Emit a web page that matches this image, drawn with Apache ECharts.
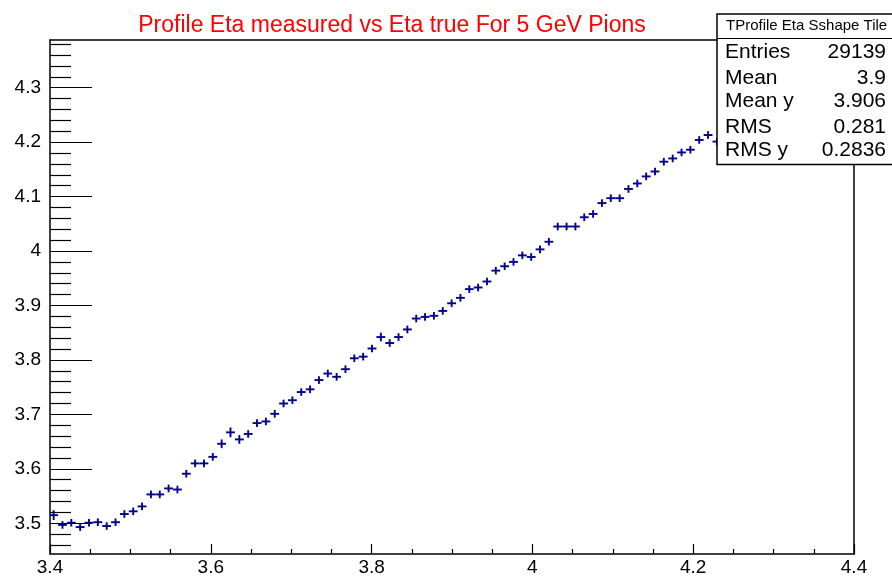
<!DOCTYPE html>
<html>
<head>
<meta charset="utf-8">
<script src="https://cdn.jsdelivr.net/npm/echarts@6/dist/echarts.min.js"></script>
<style>
  html, body { margin: 0; padding: 0; background: #ffffff; }
  #chart { width: 892px; height: 579px; }
</style>
</head>
<body>
<div id="chart"></div>
<script>
// Profile bins: centre of each eta-true bin (bin width 0.011)
const binCenters = [
  3.4045, 3.4155, 3.4265, 3.4375, 3.4485, 3.4595, 3.4705, 3.4815, 3.4925, 3.5035,
  3.5145, 3.5255, 3.5365, 3.5475, 3.5585, 3.5695, 3.5805, 3.5915, 3.6025, 3.6135,
  3.6245, 3.6355, 3.6465, 3.6575, 3.6685, 3.6795, 3.6905, 3.7015, 3.7125, 3.7235,
  3.7345, 3.7455, 3.7565, 3.7675, 3.7785, 3.7895, 3.8005, 3.8115, 3.8225, 3.8335,
  3.8445, 3.8555, 3.8665, 3.8775, 3.8885, 3.8995, 3.9105, 3.9215, 3.9325, 3.9435,
  3.9545, 3.9655, 3.9765, 3.9875, 3.9985, 4.0095, 4.0205, 4.0315, 4.0425, 4.0535,
  4.0645, 4.0755, 4.0865, 4.0975, 4.1085, 4.1195, 4.1305, 4.1415, 4.1525, 4.1635,
  4.1745, 4.1855, 4.1965, 4.2075, 4.2185, 4.2295
];
const binWidth = 0.011;

// Mean measured eta in each bin
const etaMeasured = [
  3.515, 3.497, 3.501, 3.493, 3.501, 3.502, 3.495, 3.502, 3.517, 3.522,
  3.531, 3.553, 3.553, 3.564, 3.562, 3.591, 3.610, 3.610, 3.622, 3.646,
  3.667, 3.654, 3.664, 3.684, 3.687, 3.701, 3.720, 3.726, 3.741, 3.746,
  3.763, 3.775, 3.769, 3.783, 3.803, 3.806, 3.821, 3.842, 3.831, 3.842,
  3.856, 3.876, 3.879, 3.881, 3.890, 3.904, 3.914, 3.930, 3.933, 3.944,
  3.964, 3.972, 3.980, 3.992, 3.989, 4.003, 4.017, 4.045, 4.045, 4.045,
  4.062, 4.068, 4.088, 4.097, 4.097, 4.114, 4.124, 4.137, 4.146, 4.164,
  4.170, 4.181, 4.186, 4.204, 4.213, 4.201
];

// Error on the mean in each bin
const etaErrors = [
  0.009, 0.007, 0.007, 0.007, 0.007, 0.007, 0.007, 0.007, 0.007, 0.007,
  0.007, 0.007, 0.007, 0.007, 0.007, 0.007, 0.007, 0.007, 0.007, 0.008,
  0.009, 0.008, 0.007, 0.007, 0.007, 0.007, 0.007, 0.007, 0.007, 0.007,
  0.007, 0.007, 0.007, 0.007, 0.007, 0.007, 0.007, 0.008, 0.007, 0.007,
  0.007, 0.007, 0.007, 0.007, 0.007, 0.007, 0.007, 0.007, 0.007, 0.007,
  0.007, 0.007, 0.007, 0.007, 0.007, 0.007, 0.007, 0.007, 0.007, 0.007,
  0.007, 0.007, 0.007, 0.007, 0.007, 0.007, 0.007, 0.007, 0.007, 0.007,
  0.007, 0.007, 0.007, 0.007, 0.007, 0.007
];

// Axis ranges and tick positions
const xMin = 3.4, xMax = 4.4, xStep = 0.2;
const yMin = 3.4436, yMax = 4.3875;
const yMajorTicks = [3.5, 3.6, 3.7, 3.8, 3.9, 4.0, 4.1, 4.2, 4.3];
const yMinorTicks = [];
for (let k = 173; k <= 219; k++) {
  if (k % 5 !== 0) yMinorTicks.push(k / 50);
}

// Statistics box contents
const statsTitle = 'TProfile Eta Sshape Tile';
const statsNames = ['Entries', 'Mean', 'Mean y', 'RMS', 'RMS y'];
const statsValues = ['29139', '3.9', '3.906', '0.281', '0.2836'];

const titleText = 'Profile Eta measured vs Eta true For 5 GeV Pions';

const FONT = '"Liberation Sans", Arial, Helvetica, sans-serif';
const MARK_COLOR = '#00008c';

const points = binCenters.map((x, i) => [x, etaMeasured[i], etaErrors[i]]);

const chart = echarts.init(document.getElementById('chart'), null, { renderer: 'canvas' });

const fmt = v => String(+(+v).toFixed(2));

// vertical centres of the rows in the statistics box
const statsRowCenters = [52.5, 78.5, 101.5, 127.5, 150];
const statsGraphics = [
  {
    type: 'rect', z: 100, silent: true,
    shape: { x: 717, y: 14, width: 200, height: 150.5 },
    style: { fill: '#ffffff', stroke: '#000000', lineWidth: 1.5 }
  },
  {
    type: 'line', z: 101, silent: true,
    shape: { x1: 717, y1: 38.5, x2: 892, y2: 38.5 },
    style: { stroke: '#000000', lineWidth: 1.2 }
  },
  {
    type: 'text', z: 102, silent: true,
    style: {
      text: statsTitle, x: 726, y: 25.5, fill: '#000000',
      font: '15px ' + FONT, textAlign: 'left', textVerticalAlign: 'middle'
    }
  }
];
statsNames.forEach((name, i) => {
  statsGraphics.push({
    type: 'text', z: 102, silent: true,
    style: {
      text: name, x: 725, y: statsRowCenters[i], fill: '#000000',
      font: '21px ' + FONT, textAlign: 'left', textVerticalAlign: 'middle'
    }
  });
  statsGraphics.push({
    type: 'text', z: 102, silent: true,
    style: {
      text: statsValues[i], x: 886, y: statsRowCenters[i], fill: '#000000',
      font: '21px ' + FONT, textAlign: 'right', textVerticalAlign: 'middle'
    }
  });
});

const option = {
  backgroundColor: '#ffffff',
  animation: false,
  title: {
    text: titleText,
    left: 387,
    top: 9,
    textAlign: 'center',
    textStyle: { color: '#ff0000', fontSize: 23, fontWeight: 'normal', fontFamily: FONT }
  },
  grid: {
    left: 50, right: 38, top: 40, bottom: 25,
    containLabel: false,
    outerBoundsMode: 'none'
  },
  xAxis: [
    {
      type: 'value', position: 'bottom',
      min: xMin, max: xMax, interval: xStep,
      axisLine: { show: true, lineStyle: { color: '#000000', width: 1.5 } },
      axisTick: { show: true, inside: true, length: 10, lineStyle: { color: '#000000', width: 1.2 } },
      minorTick: { show: true, splitNumber: 4, length: 5, lineStyle: { color: '#000000', width: 1.2 } },
      axisLabel: {
        show: true, margin: 4, color: '#000000', fontSize: 19, fontFamily: FONT,
        showMinLabel: true, showMaxLabel: true, formatter: fmt
      },
      splitLine: { show: false }, minorSplitLine: { show: false }
    },
    {
      type: 'value', position: 'top',
      min: xMin, max: xMax,
      axisLine: { show: true, lineStyle: { color: '#000000', width: 1.5 } },
      axisTick: { show: false }, axisLabel: { show: false }, splitLine: { show: false }
    }
  ],
  yAxis: [
    {
      type: 'value', position: 'left',
      min: yMin, max: yMax,
      axisLine: { show: true, lineStyle: { color: '#000000', width: 1.5 } },
      axisTick: {
        show: true, inside: true, length: 42, customValues: yMajorTicks,
        lineStyle: { color: '#000000', width: 1.2 }
      },
      axisLabel: {
        show: true, margin: 9, color: '#000000', fontSize: 19, fontFamily: FONT,
        customValues: yMajorTicks, formatter: fmt
      },
      splitLine: { show: false }
    },
    {
      type: 'value', position: 'left',
      min: yMin, max: yMax,
      axisLine: { show: false },
      axisTick: {
        show: true, inside: true, length: 21, customValues: yMinorTicks,
        lineStyle: { color: '#000000', width: 1.2 }
      },
      axisLabel: { show: false },
      splitLine: { show: false }
    },
    {
      type: 'value', position: 'right',
      min: yMin, max: yMax,
      axisLine: { show: true, lineStyle: { color: '#000000', width: 1.5 } },
      axisTick: { show: false }, axisLabel: { show: false }, splitLine: { show: false }
    }
  ],
  series: [
    {
      type: 'custom',
      xAxisIndex: 0,
      yAxisIndex: 0,
      clip: true,
      data: points,
      renderItem: function (params, api) {
        const x = api.value(0), y = api.value(1), e = api.value(2);
        const half = binWidth / 2;
        const left = api.coord([x - half, y]);
        const right = api.coord([x + half, y]);
        const top = api.coord([x, y + e]);
        const bottom = api.coord([x, y - e]);
        const style = { stroke: MARK_COLOR, lineWidth: 1.9, fill: null };
        return {
          type: 'group',
          children: [
            { type: 'line', shape: { x1: left[0], y1: left[1], x2: right[0], y2: right[1] }, style: style },
            { type: 'line', shape: { x1: top[0], y1: top[1], x2: bottom[0], y2: bottom[1] }, style: style }
          ]
        };
      }
    }
  ],
  graphic: statsGraphics
};

chart.setOption(option);
</script>
</body>
</html>
